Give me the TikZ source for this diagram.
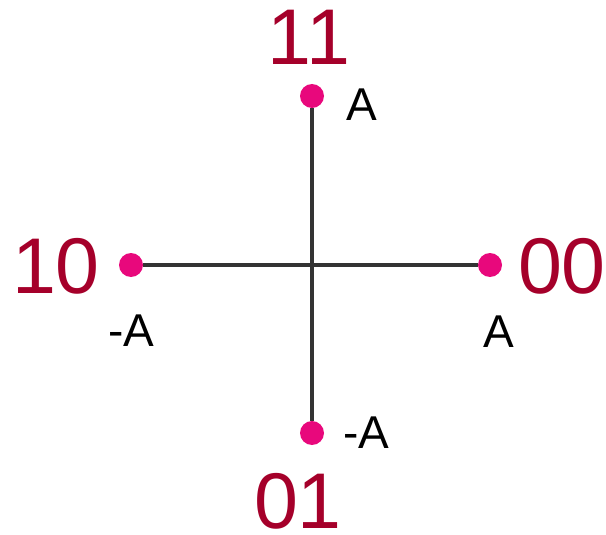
\documentclass[tikz,border=0pt]{standalone}
\usepackage{fontspec}
\setmainfont{Liberation Sans}
\definecolor{dotc}{HTML}{E8087C}
\definecolor{labc}{HTML}{A5002A}
\definecolor{linec}{HTML}{333333}
\begin{document}
\begin{tikzpicture}[x=1pt,y=-1pt,
  dot/.style={circle,fill=dotc,draw=none,minimum size=24pt,inner sep=0pt},
  code/.style={text=labc,inner sep=0pt,font=\fontsize{79}{79}\selectfont},
  amp/.style={text=black,inner sep=0pt,font=\fontsize{46}{46}\selectfont},
  axis/.style={draw=linec,line width=3.2pt}]
\useasboundingbox (0,0) rectangle (606,535);
\node[dot] (T) at (312,96) {};
\node[dot] (B) at (312,433) {};
\node[dot] (L) at (131,265) {};
\node[dot] (R) at (490,265) {};
\draw[axis] (L) -- (R);
\draw[axis] (T) -- (B);
\node[code] (c11) at (309,37) {11};
\node[code] (c10) at (56,266) {10};
\node[code] (c00) at (562,266) {00};
\node[code] (c01) at (298,501) {01};
\node[amp] (aT) at (362,105) {A};
\node[amp] (aL) at (131,331) {-A};
\node[amp] (aR) at (499,332) {A};
\node[amp] (aB) at (366,433) {-A};
\end{tikzpicture}
\end{document}
